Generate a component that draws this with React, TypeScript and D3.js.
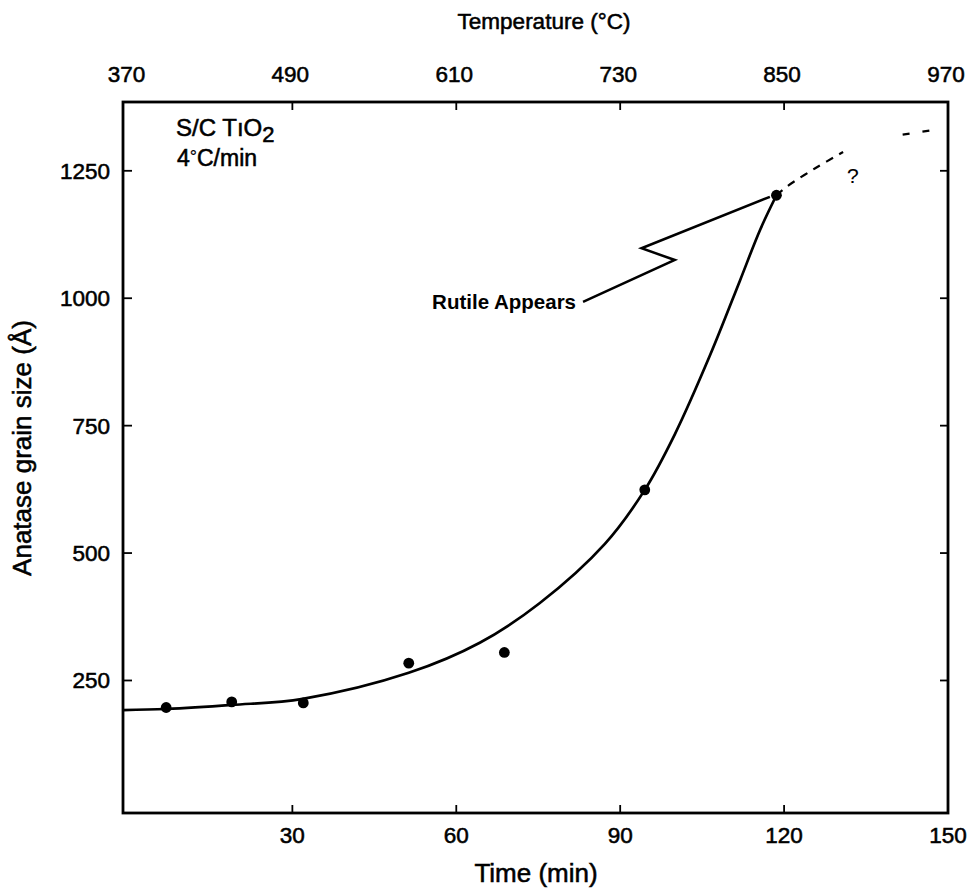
import React from 'react';
import * as d3 from 'd3';

const W = 973;
const H = 894;
const PLOT = { left: 123, right: 948, top: 102, bottom: 813 };

// Axis ticks
const timeTicks = [30, 60, 90, 120, 150];
const tempTicks = [370, 490, 610, 730, 850, 970];
const sizeTicks = [250, 500, 750, 1000, 1250];

// Measured data points (time in min, anatase grain size in Å)
const pointTime = [6.9, 18.9, 32.0, 51.3, 68.8, 94.5, 118.6];
const pointSize = [197, 208, 206, 284, 305, 624, 1202];

// Hand-drawn fit curve (solid)
const fitTime = [-0.95, 6.9, 18.9, 31.9, 51.3, 64.3, 75.3, 87.2, 94.5, 100.0, 106.4, 111.9, 115.6, 118.6];
const fitSize = [192, 194, 202, 214, 265, 324, 402, 518, 624, 733, 887, 1034, 1134, 1202];

// Dashed extrapolation
const dashTime = [118.6, 120.5, 125.7, 130.8];
const dashSize = [1202, 1219, 1255, 1287];
const dashTime2 = [141.7, 146.7];
const dashSize2 = [1321, 1329];

// "Rutile Appears" zig-zag pointer
const arrowTime = [83.2, 100.0, 93.9, 117.4];
const arrowSize = [993, 1075, 1098, 1199];

const FONT = "'Liberation Sans', Arial, Helvetica, sans-serif";

export default function App() {
  const x = d3.scaleLinear().domain([-1, 150]).range([PLOT.left, PLOT.right]);
  const xTemp = d3
    .scaleLinear()
    .domain([370 + 4 * -1, 370 + 4 * 150])
    .range([PLOT.left, PLOT.right]);
  const y = d3.scaleLinear().domain([-10, 1385]).range([PLOT.bottom, PLOT.top]);

  const line = d3
    .line<[number, number]>()
    .x((d) => x(d[0]))
    .y((d) => y(d[1]))
    .curve(d3.curveCatmullRom.alpha(0.5));
  const straight = d3
    .line<[number, number]>()
    .x((d) => x(d[0]))
    .y((d) => y(d[1]));

  const zip = (a: number[], b: number[]) => a.map((v, i) => [v, b[i]] as [number, number]);

  const fitPath = line(zip(fitTime, fitSize)) || '';
  const dashPath = line(zip(dashTime, dashSize)) || '';
  const dashPath2 = straight(zip(dashTime2, dashSize2)) || '';
  const arrowPath = straight(zip(arrowTime, arrowSize)) || '';

  const txt = { fontFamily: FONT, fill: '#000', stroke: '#000', strokeWidth: 0.55 };

  return (
    <svg
      width={W}
      height={H}
      style={{ position: 'absolute', left: 0, top: 0, background: '#fff' }}
    >
      <rect x={0} y={0} width={W} height={H} fill="#fff" />

      {/* frame */}
      <rect
        x={PLOT.left}
        y={PLOT.top}
        width={PLOT.right - PLOT.left}
        height={PLOT.bottom - PLOT.top}
        fill="none"
        stroke="#000"
        strokeWidth={2.8}
      />

      {/* bottom ticks (time) */}
      {timeTicks.map((t) => (
        <g key={'bt' + t}>
          {t < 150 && (
            <line x1={x(t)} x2={x(t)} y1={PLOT.bottom} y2={PLOT.bottom - 8} stroke="#000" strokeWidth={1.8} />
          )}
          <text x={x(t)} y={843} textAnchor="middle" fontSize={22.5} {...txt}>
            {t}
          </text>
        </g>
      ))}

      {/* top ticks (temperature) */}
      {tempTicks.map((T) => (
        <g key={'tt' + T}>
          {T > 370 && T < 970 && (
            <line x1={xTemp(T)} x2={xTemp(T)} y1={PLOT.top} y2={PLOT.top + 8} stroke="#000" strokeWidth={1.8} />
          )}
          <text x={xTemp(T) - 2} y={82} textAnchor="middle" fontSize={22.5} {...txt}>
            {T}
          </text>
        </g>
      ))}

      {/* left & right ticks (size) */}
      {sizeTicks.map((v) => (
        <g key={'yt' + v}>
          <line x1={PLOT.left} x2={PLOT.left + 9} y1={y(v)} y2={y(v)} stroke="#000" strokeWidth={1.8} />
          <line x1={PLOT.right} x2={PLOT.right - 8} y1={y(v)} y2={y(v)} stroke="#000" strokeWidth={1.8} />
          <text x={110} y={y(v) + 8} textAnchor="end" fontSize={22.5} {...txt}>
            {v}
          </text>
        </g>
      ))}

      {/* axis titles */}
      <text x={544} y={29} textAnchor="middle" fontSize={22.5} {...txt}>
        Temperature (°C)
      </text>
      <text x={536} y={882} textAnchor="middle" fontSize={26} {...txt}>
        Time (min)
      </text>
      <text
        transform={`translate(31, 448) rotate(-90)`}
        textAnchor="middle"
        fontSize={26}
        {...txt}
      >
        Anatase grain size (Å)
      </text>

      {/* inset label */}
      <text x={176} y={136} fontSize={24} {...txt}>
        S/C T<tspan>ı</tspan>O
        <tspan dy={6} fontSize={22}>2</tspan>
      </text>
      <text x={177} y={166} fontSize={23} {...txt}>
        4<tspan dy={-3} fontSize={18} strokeWidth={0.2}>°</tspan>
        <tspan dy={3}>C/min</tspan>
      </text>

      {/* fit curve */}
      <path d={fitPath} fill="none" stroke="#000" strokeWidth={2.7} strokeLinecap="round" />
      <path d={dashPath} fill="none" stroke="#000" strokeWidth={2.2} strokeDasharray="8 7" />
      <path d={dashPath2} fill="none" stroke="#000" strokeWidth={2.2} strokeDasharray="7 13" />

      {/* data points */}
      {pointTime.map((t, i) => (
        <circle key={'p' + i} cx={x(t)} cy={y(pointSize[i])} r={5.4} fill="#000" />
      ))}

      {/* annotation */}
      <path d={arrowPath} fill="none" stroke="#000" strokeWidth={2.5} strokeLinejoin="miter" />
      <text x={x(arrowTime[0]) - 7} y={y(arrowSize[0]) + 7} textAnchor="end" fontSize={20.5} fontWeight="bold" fontFamily={FONT}>
        Rutile Appears
      </text>
      <text x={x(132.6)} y={y(1241) + 8} textAnchor="middle" fontSize={21} {...txt} strokeWidth={0.1}>
        ?
      </text>
    </svg>
  );
}
